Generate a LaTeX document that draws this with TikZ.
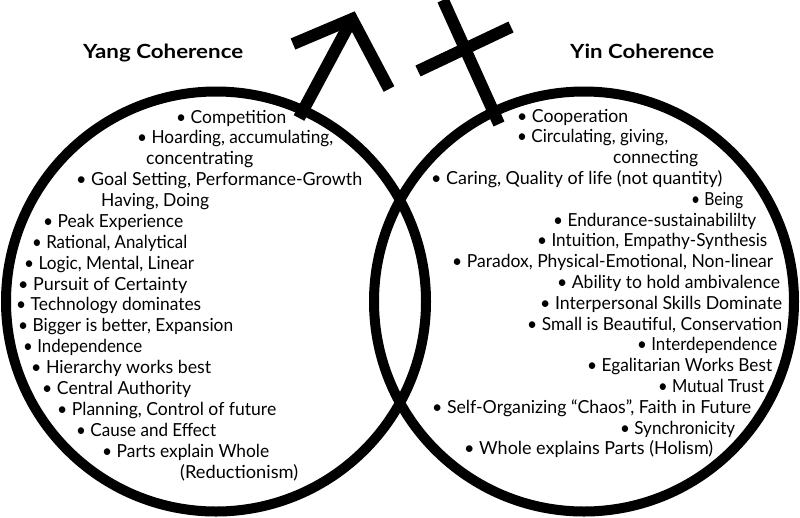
\documentclass[tikz,border=0pt]{standalone}
\usepackage{fontspec}
\usepackage{graphicx}
\setmainfont{Lato}
\newlength\fitlen
\newcommand\fitw[2]{\settowidth\fitlen{#2}\pgfmathsetmacro\fitr{#1/\fitlen}\scalebox{\fitr}[1]{#2}}
\tikzset{
  ring/.style={circle, draw, line width=10pt, minimum size=420pt, inner sep=0pt},
  sym/.style={line width=12pt, line cap=butt, line join=miter},
  itm/.style={anchor=base west, inner sep=0pt, font=\fontsize{18}{21}\selectfont},
  ttl/.style={anchor=base west, inner sep=0pt, font=\fontsize{19.5}{22}\selectfont\bfseries}
}
\begin{document}
\begin{tikzpicture}[x=1pt,y=-1pt]
\useasboundingbox (0,0) rectangle (800,517);
\node[ring] (yang) at (216,301.5) {};
\node[ring] (yin) at (584,301.5) {};
% male symbol
\draw[sym] (293,44) -- (352,19) -- (389,89);
\draw[sym] (299,118) -- (351,21);
% female symbol
\draw[sym] (443,0) -- (499,124);
\draw[sym] (418,71) -- (511,27);
% titles
\node[ttl] (tyang) at (83,58) {\fitw{160}{Yang Coherence}};
\node[ttl] (tyin) at (570,58) {\fitw{144}{Yin Coherence}};
% left items
\node[itm] (l1) at (176,123) {\fitw{110}{• Competition}};
\node[itm] (l2) at (137,143.9) {\fitw{196}{• Hoarding, accumulating,}};
\node[itm] (l3) at (146,164.8) {\fitw{107}{concentrating}};
\node[itm] (l4) at (76,185.6) {\fitw{286}{• Goal Setting, Performance-Growth}};
\node[itm] (l5) at (101,206.5) {\fitw{108}{Having, Doing}};
\node[itm] (l6) at (43,227.4) {\fitw{140}{• Peak Experience}};
\node[itm] (l7) at (32,248.3) {\fitw{155}{• Rational, Analytical}};
\node[itm] (l8) at (24,269.2) {\fitw{170}{• Logic, Mental, Linear}};
\node[itm] (l9) at (18,290) {\fitw{169}{• Pursuit of Certainty}};
\node[itm] (l10) at (16,310.9) {\fitw{185}{• Technology dominates}};
\node[itm] (l11) at (18,331.8) {\fitw{215}{• Bigger is better, Expansion}};
\node[itm] (l12) at (23,352.7) {\fitw{119}{• Independence}};
\node[itm] (l13) at (31,373.6) {\fitw{180}{• Hierarchy works best}};
\node[itm] (l14) at (42,394.4) {\fitw{149}{• Central Authority}};
\node[itm] (l15) at (57,415.3) {\fitw{219}{• Planning, Control of future}};
\node[itm] (l16) at (76,436.2) {\fitw{140}{• Cause and Effect}};
\node[itm] (l17) at (102,457.1) {\fitw{167}{• Parts explain Whole}};
\node[itm] (l18) at (180,478) {\fitw{118}{(Reductionism)}};
% right items
\node[itm] (r1) at (517,122) {\fitw{111}{• Cooperation}};
\node[itm] (r2) at (517,142.8) {\fitw{151}{• Circulating, giving,}};
\node[itm] (r3) at (613,163.6) {\fitw{85}{connecting}};
\node[itm] (r4) at (431,184.4) {\fitw{291}{• Caring, Quality of life (not quantity)}};
\node[itm] (r5) at (691,205.2) {\fitw{52}{• Being}};
\node[itm] (r6) at (553,226) {\fitw{203}{• Endurance-sustainabililty}};
\node[itm] (r7) at (537,246.8) {\fitw{230}{• Intuition, Empathy-Synthesis}};
\node[itm] (r8) at (452,267.6) {\fitw{321}{• Paradox, Physical-Emotional, Non-linear}};
\node[itm] (r9) at (557,288.4) {\fitw{223}{• Ability to hold ambivalence}};
\node[itm] (r10) at (540,309.2) {\fitw{242}{• Interpersonal Skills Dominate}};
\node[itm] (r11) at (527,330) {\fitw{255}{• Small is Beautiful, Conservation}};
\node[itm] (r12) at (637,350.8) {\fitw{140}{• Interdependence}};
\node[itm] (r13) at (587,371.6) {\fitw{185}{• Egalitarian Works Best}};
\node[itm] (r14) at (658,392.4) {\fitw{106}{• Mutual Trust}};
\node[itm] (r15) at (432,413.2) {\fitw{319}{• Self-Organizing “Chaos”, Faith in Future}};
\node[itm] (r16) at (620,434) {\fitw{115}{• Synchronicity}};
\node[itm] (r17) at (464,454.8) {\fitw{249}{• Whole explains Parts (Holism)}};
\end{tikzpicture}
\end{document}
